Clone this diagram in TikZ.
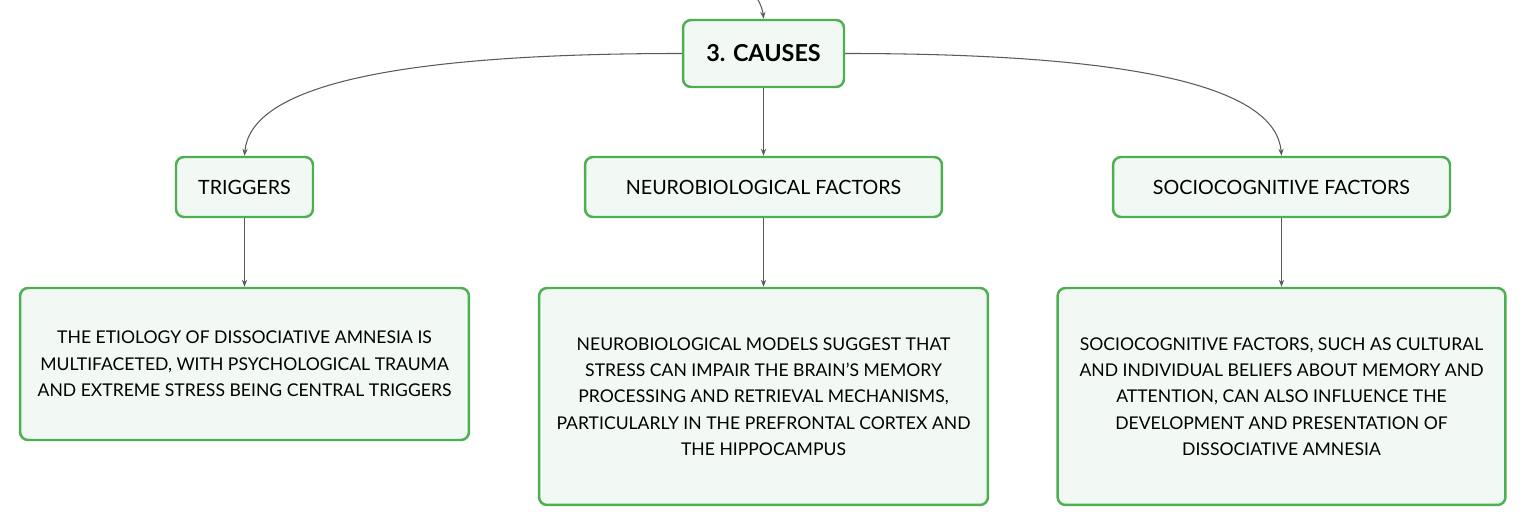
\documentclass[tikz,border=0pt]{standalone}
\usepackage{fontspec}
\setmainfont{Lato}
\usetikzlibrary{arrows.meta}
\begin{document}
\begin{tikzpicture}[x=0.02cm,y=-0.02cm,
  causebox/.style={shape=rectangle,draw=causes_edge,fill=causes_fill,line width=1.4pt,rounded corners=0.16cm,align=center,inner sep=0pt},
  link/.style={draw=causes_link,line width=0.6pt,-{Stealth[length=4pt,width=3pt]}}]
\definecolor{causes_edge}{RGB}{76,175,80}
\definecolor{causes_fill}{RGB}{242,249,244}
\definecolor{causes_link}{RGB}{90,90,90}
\useasboundingbox (0,0) rectangle (1527,526);

\node[causebox,minimum width=3.22cm,minimum height=1.34cm,font=\fontsize{13.3}{15}\selectfont\bfseries] (causes) at (763.5,53.5) {3. CAUSES};

\node[causebox,minimum width=2.74cm,minimum height=1.2cm,font=\fontsize{11.2}{13}\selectfont] (triggers) at (244.5,187) {TRIGGERS};
\node[causebox,minimum width=7.14cm,minimum height=1.2cm,font=\fontsize{11.2}{13}\selectfont] (neuro) at (763.5,187) {NEUROBIOLOGICAL FACTORS};
\node[causebox,minimum width=6.74cm,minimum height=1.2cm,font=\fontsize{11.2}{13}\selectfont] (socio) at (1281.5,187) {SOCIOCOGNITIVE FACTORS};

\node[causebox,minimum width=8.98cm,minimum height=3.04cm,font=\fontsize{10}{15}\selectfont] (trigtext) at (244.5,364) {THE ETIOLOGY OF DISSOCIATIVE AMNESIA IS\\ MULTIFACETED, WITH PSYCHOLOGICAL TRAUMA\\ AND EXTREME STRESS BEING CENTRAL TRIGGERS};
\node[causebox,minimum width=8.98cm,minimum height=4.34cm,font=\fontsize{10}{15}\selectfont] (neurotext) at (763.5,396.5) {NEUROBIOLOGICAL MODELS SUGGEST THAT\\ STRESS CAN IMPAIR THE BRAIN'S MEMORY\\ PROCESSING AND RETRIEVAL MECHANISMS,\\ PARTICULARLY IN THE PREFRONTAL CORTEX AND\\ THE HIPPOCAMPUS};
\node[causebox,minimum width=8.96cm,minimum height=4.34cm,font=\fontsize{10}{15}\selectfont] (sociotext) at (1281.5,396.5) {SOCIOCOGNITIVE FACTORS, SUCH AS CULTURAL\\ AND INDIVIDUAL BELIEFS ABOUT MEMORY AND\\ ATTENTION, CAN ALSO INFLUENCE THE\\ DEVELOPMENT AND PRESENTATION OF\\ DISSOCIATIVE AMNESIA};

\coordinate (parent) at (757,-2);
\draw[link] (parent) to[bend left=12] (causes.north);

\draw[link] (causes.west) .. controls (377,53.5) and (250,90) .. (triggers.north);
\draw[link] (causes.south) -- (neuro.north);
\draw[link] (causes.east) .. controls (1150,53.5) and (1276,90) .. (socio.north);

\draw[link] (triggers.south) -- (trigtext.north);
\draw[link] (neuro.south) -- (neurotext.north);
\draw[link] (socio.south) -- (sociotext.north);
\end{tikzpicture}
\end{document}
